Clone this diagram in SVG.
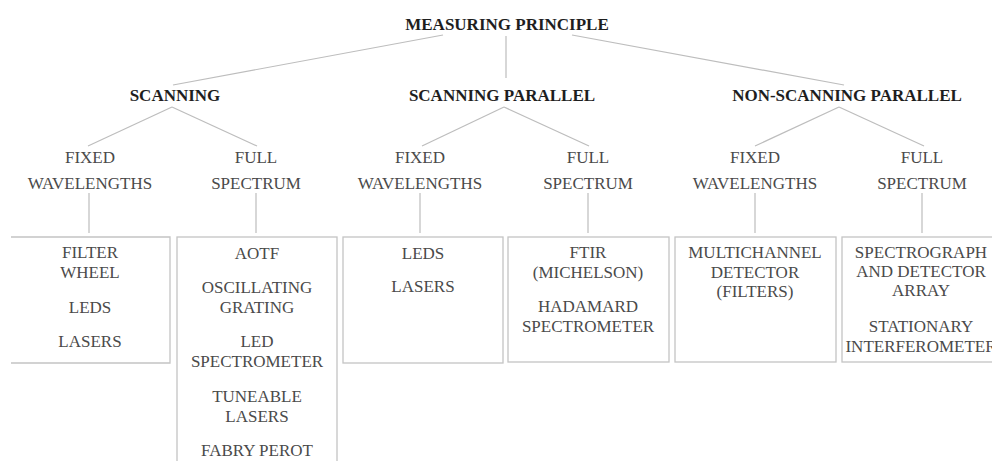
<svg xmlns="http://www.w3.org/2000/svg" width="992" height="461" viewBox="0 0 992 461">
  <style>
    .head { font-family: "Liberation Serif", "Times New Roman", serif; font-size: 17px; font-weight: bold; fill: #1e1e1e; text-anchor: middle; }
    .sub  { font-family: "Liberation Serif", "Times New Roman", serif; font-size: 17px; fill: #4a4a4a; text-anchor: middle; }
    .box  { fill: none; stroke: #c4c4c4; stroke-width: 1.3; }
    .link { stroke: #bdbdbd; stroke-width: 1.2; fill: none; }
  </style>
  <rect width="992" height="461" fill="#ffffff"/>

  <g id="connectors">
    <line class="link" x1="443" y1="35" x2="173" y2="85"/>
    <line class="link" x1="506" y1="36" x2="506" y2="78"/>
    <line class="link" x1="572" y1="35" x2="844" y2="85"/>

    <line class="link" x1="172" y1="107" x2="88" y2="146"/>
    <line class="link" x1="172" y1="107" x2="257" y2="146"/>
    <line class="link" x1="504" y1="107" x2="422" y2="146"/>
    <line class="link" x1="504" y1="107" x2="589" y2="146"/>
    <line class="link" x1="839" y1="107" x2="755" y2="146"/>
    <line class="link" x1="839" y1="107" x2="924" y2="146"/>

    <line class="link" x1="89" y1="193" x2="89" y2="233"/>
    <line class="link" x1="256" y1="193" x2="256" y2="233"/>
    <line class="link" x1="420" y1="193" x2="420" y2="233"/>
    <line class="link" x1="588" y1="193" x2="588" y2="233"/>
    <line class="link" x1="755" y1="193" x2="755" y2="233"/>
    <line class="link" x1="922" y1="193" x2="922" y2="233"/>
  </g>

  <g id="measuring-principle">
    <text class="head" x="507" y="30">MEASURING PRINCIPLE</text>
  </g>

  <g id="scanning">
    <text class="head" x="175" y="101">SCANNING</text>
  </g>
  <g id="scanning-parallel">
    <text class="head" x="502" y="101">SCANNING PARALLEL</text>
  </g>
  <g id="non-scanning-parallel">
    <text class="head" x="847" y="101">NON-SCANNING PARALLEL</text>
  </g>

  <g id="scanning-fixed">
    <text class="sub" x="90" y="163">FIXED</text>
    <text class="sub" x="90" y="189">WAVELENGTHS</text>
  </g>
  <g id="scanning-full">
    <text class="sub" x="256" y="163">FULL</text>
    <text class="sub" x="256" y="189">SPECTRUM</text>
  </g>
  <g id="parallel-fixed">
    <text class="sub" x="420" y="163">FIXED</text>
    <text class="sub" x="420" y="189">WAVELENGTHS</text>
  </g>
  <g id="parallel-full">
    <text class="sub" x="588" y="163">FULL</text>
    <text class="sub" x="588" y="189">SPECTRUM</text>
  </g>
  <g id="nonscan-fixed">
    <text class="sub" x="755" y="163">FIXED</text>
    <text class="sub" x="755" y="189">WAVELENGTHS</text>
  </g>
  <g id="nonscan-full">
    <text class="sub" x="922" y="163">FULL</text>
    <text class="sub" x="922" y="189">SPECTRUM</text>
  </g>

  <!-- leaf boxes -->
  <g id="box-scanning-fixed">
    <polyline class="box" points="11,237 170,237 170,363 11,363"/>
    <text class="sub" x="90" y="258">FILTER</text>
    <text class="sub" x="90" y="278">WHEEL</text>
    <text class="sub" x="90" y="313">LEDS</text>
    <text class="sub" x="90" y="347">LASERS</text>
  </g>
  <g id="box-scanning-full">
    <rect class="box" x="177" y="237" width="160" height="240"/>
    <text class="sub" x="257" y="259">AOTF</text>
    <text class="sub" x="257" y="293">OSCILLATING</text>
    <text class="sub" x="257" y="313">GRATING</text>
    <text class="sub" x="257" y="347">LED</text>
    <text class="sub" x="257" y="367">SPECTROMETER</text>
    <text class="sub" x="257" y="402">TUNEABLE</text>
    <text class="sub" x="257" y="422">LASERS</text>
    <text class="sub" x="257" y="456">FABRY PEROT</text>
  </g>
  <g id="box-parallel-fixed">
    <rect class="box" x="343" y="237" width="160" height="126"/>
    <text class="sub" x="423" y="259">LEDS</text>
    <text class="sub" x="423" y="292">LASERS</text>
  </g>
  <g id="box-parallel-full">
    <rect class="box" x="508" y="237" width="161" height="125"/>
    <text class="sub" x="588" y="258">FTIR</text>
    <text class="sub" x="588" y="278">(MICHELSON)</text>
    <text class="sub" x="588" y="312">HADAMARD</text>
    <text class="sub" x="588" y="332">SPECTROMETER</text>
  </g>
  <g id="box-nonscan-fixed">
    <rect class="box" x="675" y="237" width="161" height="125"/>
    <text class="sub" x="755" y="258">MULTICHANNEL</text>
    <text class="sub" x="755" y="278">DETECTOR</text>
    <text class="sub" x="755" y="297">(FILTERS)</text>
  </g>
  <g id="box-nonscan-full">
    <rect class="box" x="842" y="237" width="170" height="125"/>
    <text class="sub" x="921" y="258">SPECTROGRAPH</text>
    <text class="sub" x="921" y="277">AND DETECTOR</text>
    <text class="sub" x="921" y="296">ARRAY</text>
    <text class="sub" x="921" y="332">STATIONARY</text>
    <text class="sub" x="921" y="352">INTERFEROMETER</text>
  </g>
</svg>
